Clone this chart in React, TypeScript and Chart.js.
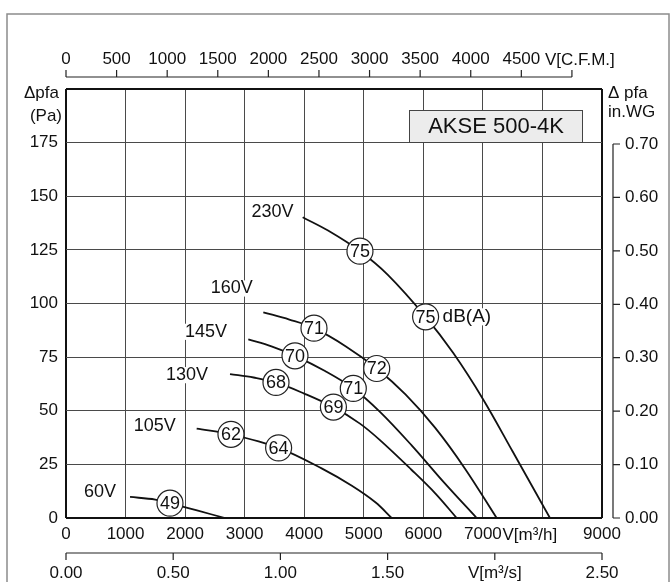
import { useEffect, useRef } from 'react';
import { Chart, registerables } from 'chart.js';

Chart.register(...registerables);

const FONT = "'Liberation Sans', Arial, Helvetica, sans-serif";

// Primary axes: air flow in m³/h, static pressure in Pa
const flowMax = 9000;
const pressureMax = 200;
const flowUnitTick = 8000; // the m³/h unit label sits in place of this tick

// Secondary scales
const cfmTicks = [0, 500, 1000, 1500, 2000, 2500, 3000, 3500, 4000, 4500, 5000];
const cfmLabels = ['0', '500', '1000', '1500', '2000', '2500', '3000', '3500', '4000', '4500', ''];
const inwgTicks = [0, 0.1, 0.2, 0.3, 0.4, 0.5, 0.6, 0.7];
const inwgLabels = ['0.00', '0.10', '0.20', '0.30', '0.40', '0.50', '0.60', '0.70'];
const m3sTicks = [0, 0.5, 1, 1.5, 2, 2.5];
const m3sLabels = ['0.00', '0.50', '1.00', '1.50', 'V[m³/s]', '2.50'];

const M3H_PER_CFM = 1.699;
const PA_PER_INWG = 249.09;

// Fan curves per supply voltage: [flow m³/h, pressure Pa]
const curve230V = [[3974, 140.2], [4400, 134], [4936, 124.4], [5400, 113.5], [6038, 93.8], [6500, 77], [7000, 55.5], [7500, 31], [8126, 0]];
const curve160V = [[3313, 95.9], [3750, 92.5], [4164, 88.5], [4700, 80], [5217, 69.7], [5700, 57.6], [6200, 42], [6700, 23], [7231, 0]];
const curve145V = [[3061, 83.3], [3450, 80], [3845, 75.6], [4350, 68.5], [4824, 60.4], [5272, 49.5], [5800, 34], [6350, 16.5], [6896, 0]];
const curve130V = [[2754, 67.1], [3150, 65.5], [3526, 63.2], [4000, 58], [4490, 51.7], [4936, 44], [5272, 36.3], [5800, 22.5], [6200, 11.5], [6560, 0]];
const curve105V = [[2194, 41.7], [2770, 39], [3570, 32.7], [4300, 23], [4800, 15], [5200, 7.2], [5468, 0]];
const curve60V = [[1075, 9.8], [1500, 8.6], [1746, 6.9], [2200, 3.5], [2670, 0]];

const curves = [curve230V, curve160V, curve145V, curve130V, curve105V, curve60V];
const voltages = ['230V', '160V', '145V', '130V', '105V', '60V'];
// where each voltage caption is centred [flow, pressure]
const voltageLabelAt = [[3467, 142.8], [2782, 107], [2351, 86.8], [2032, 66.6], [1489, 42.8], [571, 12.1]];

// Sound level marks on the curves
const soundFlow = [4936, 6038, 4164, 5217, 3845, 4824, 3526, 4490, 2770, 3570, 1746];
const soundPressure = [124.4, 93.8, 88.5, 69.7, 75.6, 60.4, 63.2, 51.7, 39, 32.7, 6.9];
const soundLevel = ['75', '75', '71', '72', '70', '71', '68', '69', '62', '64', '49'];

const modelName = 'AKSE 500-4K';

function text(ctx: CanvasRenderingContext2D, s: string, x: number, y: number, align: CanvasTextAlign, size: number, knockout = false) {
  ctx.font = `${size}px ${FONT}`;
  ctx.textAlign = align;
  ctx.textBaseline = 'middle';
  if (knockout) {
    const w = ctx.measureText(s).width;
    const left = align === 'center' ? x - w / 2 : align === 'right' ? x - w : x;
    ctx.fillStyle = '#ffffff';
    ctx.fillRect(left - 1, y - size * 0.45, w + 2, size * 0.9);
  }
  ctx.fillStyle = '#111111';
  ctx.fillText(s, x, y);
}

const overlay = {
  id: 'overlay',
  afterDraw(chart: any) {
    const { ctx, chartArea } = chart;
    const x = chart.scales.x;
    const y = chart.scales.y;
    ctx.save();

    // outer frame
    ctx.strokeStyle = '#8c8c8c';
    ctx.lineWidth = 1.5;
    ctx.strokeRect(7, 14, 662, 620);

    ctx.strokeStyle = '#222222';
    ctx.lineWidth = 1.2;

    // top axis, C.F.M.
    const topY = chartArea.top - 12;
    ctx.beginPath();
    ctx.moveTo(x.getPixelForValue(0), topY);
    ctx.lineTo(x.getPixelForValue(cfmTicks[cfmTicks.length - 1] * M3H_PER_CFM), topY);
    cfmTicks.forEach((v) => {
      const px = x.getPixelForValue(v * M3H_PER_CFM);
      ctx.moveTo(px, topY);
      ctx.lineTo(px, topY - 7);
    });
    ctx.stroke();
    cfmTicks.forEach((v, i) => text(ctx, cfmLabels[i], x.getPixelForValue(v * M3H_PER_CFM), topY - 18, 'center', 17));
    text(ctx, 'V[C.F.M.]', x.getPixelForValue(cfmTicks[cfmTicks.length - 1] * M3H_PER_CFM) - 27, topY - 17, 'left', 17);

    // right axis, in.WG
    const rx = chartArea.right + 11;
    ctx.beginPath();
    ctx.moveTo(rx, y.getPixelForValue(0));
    ctx.lineTo(rx, y.getPixelForValue(inwgTicks[inwgTicks.length - 1] * PA_PER_INWG));
    inwgTicks.forEach((v) => {
      const py = y.getPixelForValue(v * PA_PER_INWG);
      ctx.moveTo(rx, py);
      ctx.lineTo(rx + 7, py);
    });
    ctx.stroke();
    inwgTicks.forEach((v, i) => text(ctx, inwgLabels[i], rx + 12, y.getPixelForValue(v * PA_PER_INWG), 'left', 17));
    text(ctx, 'Δ pfa', chartArea.right + 6, chartArea.top + 4, 'left', 17);
    text(ctx, 'in.WG', chartArea.right + 6, chartArea.top + 23, 'left', 17);

    // left axis caption
    text(ctx, 'Δpfa', chartArea.left - 7, chartArea.top + 4, 'right', 17);
    text(ctx, '(Pa)', chartArea.left - 4, chartArea.top + 27, 'right', 17);

    // bottom unit label for m³/h
    text(ctx, 'V[m³/h]', x.getPixelForValue(flowUnitTick) - 40, chartArea.bottom + 17, 'left', 17);

    // second bottom axis, m³/s
    const by = chartArea.bottom + 35;
    ctx.beginPath();
    ctx.moveTo(x.getPixelForValue(0), by);
    ctx.lineTo(x.getPixelForValue(m3sTicks[m3sTicks.length - 1] * 3600), by);
    m3sTicks.forEach((v) => {
      const px = x.getPixelForValue(v * 3600);
      ctx.moveTo(px, by);
      ctx.lineTo(px, by + 7);
    });
    ctx.stroke();
    m3sTicks.forEach((v, i) => text(ctx, m3sLabels[i], x.getPixelForValue(v * 3600), by + 20, 'center', 17));

    // model name box
    ctx.fillStyle = '#ececec';
    ctx.fillRect(409, 110, 174, 33);
    ctx.strokeStyle = '#444444';
    ctx.lineWidth = 1;
    ctx.strokeRect(409.5, 110.5, 173, 32);
    text(ctx, modelName, 496, 127, 'center', 22);

    // voltage captions
    voltages.forEach((v, i) => {
      const [fx, fy] = voltageLabelAt[i];
      text(ctx, v, x.getPixelForValue(fx), y.getPixelForValue(fy), 'center', 18, true);
    });

    // sound levels in the circles
    soundFlow.forEach((f, i) => {
      text(ctx, soundLevel[i], x.getPixelForValue(f), y.getPixelForValue(soundPressure[i]) + 1, 'center', 18);
    });
    text(ctx, 'dB(A)', x.getPixelForValue(soundFlow[1]) + 17, y.getPixelForValue(soundPressure[1]), 'left', 19, true);

    ctx.restore();
  },
};

export default function App() {
  const ref = useRef<HTMLCanvasElement>(null);

  useEffect(() => {
    if (!ref.current) return;
    const gridColor = (c: any) => (c.tick && (c.tick.value === 0 || c.tick.value === c.scale.max) ? '#111111' : '#4a4a4a');
    const gridWidth = (c: any) => (c.tick && (c.tick.value === 0 || c.tick.value === c.scale.max) ? 2 : 1);

    const lineSets = curves.map((pts, i) => ({
      type: 'line' as const,
      label: voltages[i],
      data: pts.map(([fx, fy]) => ({ x: fx, y: fy })),
      borderColor: '#111111',
      borderWidth: 1.8,
      pointRadius: 0,
      fill: false,
      tension: 0.35,
      order: 2,
    }));

    const marks = {
      type: 'scatter' as const,
      label: 'dB(A)',
      data: soundFlow.map((f, i) => ({ x: f, y: soundPressure[i] })),
      pointRadius: 13,
      pointBackgroundColor: '#ffffff',
      pointBorderColor: '#222222',
      pointBorderWidth: 1.2,
      order: 1,
    };

    const chart = new Chart(ref.current, {
      type: 'line',
      data: { datasets: [marks as any, ...lineSets] },
      options: {
        animation: false,
        responsive: false,
        devicePixelRatio: 1,
        layout: { padding: { top: 89, right: 69, bottom: 0, left: 0 } },
        plugins: { legend: { display: false }, tooltip: { enabled: false } },
        scales: {
          x: {
            type: 'linear',
            min: 0,
            max: flowMax,
            afterFit: (s: any) => { s.height = 64; },
            ticks: {
              stepSize: 1000,
              autoSkip: false,
              maxRotation: 0,
              padding: 6,
              color: '#111111',
              font: { family: FONT, size: 17 },
              callback: (v: any) => (v === flowUnitTick ? '' : String(v)),
            },
            grid: { color: gridColor, lineWidth: gridWidth, drawTicks: false },
            border: { display: false },
          },
          y: {
            type: 'linear',
            min: 0,
            max: pressureMax,
            afterFit: (s: any) => { s.width = 66; },
            ticks: {
              stepSize: 25,
              padding: 8,
              color: '#111111',
              font: { family: FONT, size: 17 },
              callback: (v: any) => (v === pressureMax ? '' : String(v)),
            },
            grid: { color: gridColor, lineWidth: gridWidth, drawTicks: false },
            border: { display: false },
          },
        },
      },
      plugins: [overlay],
    });
    return () => chart.destroy();
  }, []);

  return (
    <div style={{ position: 'absolute', left: 0, top: 0, width: 671, height: 582, background: '#ffffff' }}>
      <canvas ref={ref} width={671} height={582} style={{ width: 671, height: 582, display: 'block' }} />
    </div>
  );
}
